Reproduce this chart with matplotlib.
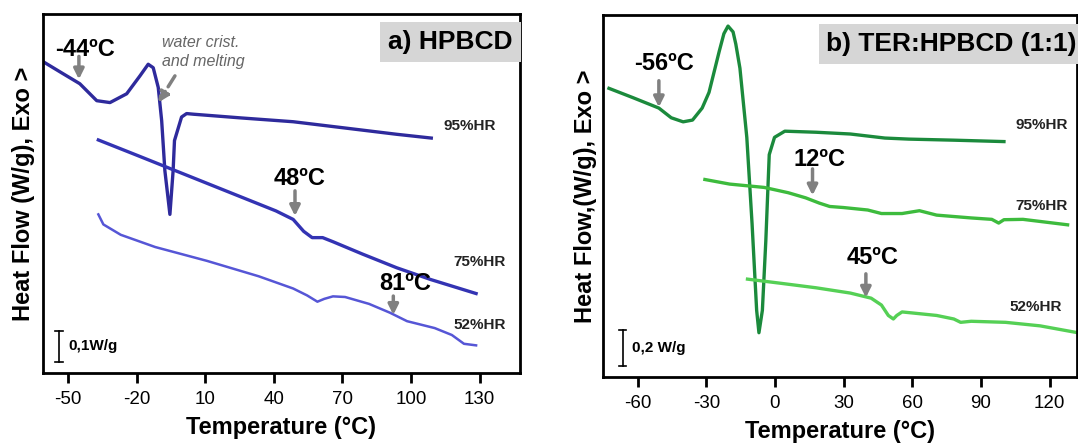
import matplotlib
matplotlib.use("Agg")
import matplotlib.pyplot as plt

plt.rcParams['font.family'] = ['Liberation Sans', 'DejaVu Sans']
plt.rcParams['axes.unicode_minus'] = False

# ---- panel a) HPBCD  (temperature degC, heat flow W/g with arbitrary offset)
a95_t = [-60.1, -52.6, -44.8, -37.4, -31.6, -24.3, -18.5, -14.9, -12.7, -10.5, -9.0, -7.6,
         -5.4, -4.0, -3.4, -0.3, 1.9, 4.8, 25.9, 48.5, 71.2, 93.8, 108.9]
a95_y = [0.988, 0.955, 0.921, 0.867, 0.861, 0.889, 0.946, 0.983, 0.972, 0.909, 0.803, 0.644,
         0.505, 0.644, 0.740, 0.815, 0.826, 0.824, 0.812, 0.800, 0.780, 0.760, 0.748]
a75_t = [-36.7, -19.4, -4.3, 10.8, 25.9, 41.0, 48.5, 53.1, 56.8, 61.4, 65.9, 78.7, 93.8, 108.9, 128.5]
a75_y = [0.742, 0.692, 0.648, 0.604, 0.560, 0.516, 0.489, 0.451, 0.431, 0.431, 0.418, 0.379,
         0.335, 0.297, 0.253]
a52_t = [-36.7, -34.5, -26.9, -11.8, 10.8, 33.4, 48.5, 54.6, 59.1, 62.1, 65.9, 71.2, 81.7,
         90.8, 98.3, 110.4, 117.9, 123.2, 128.5]
a52_y = [0.505, 0.473, 0.440, 0.401, 0.357, 0.308, 0.269, 0.247, 0.227, 0.236, 0.244, 0.242,
         0.220, 0.192, 0.165, 0.143, 0.121, 0.093, 0.088]

# ---- panel b) TER:HPBCD (1:1)
b95_t = [-72.5, -62.0, -50.7, -45.3, -40.1, -36.0, -31.8, -28.8, -24.3, -22.3, -20.5, -18.3,
         -17.1, -15.3, -12.3, -10.0, -8.0, -7.0, -5.5, -4.0, -2.5, -0.2, 4.3, 17.9, 32.9, 48.0,
         58.5, 78.1, 100.0]
b95_y = [1.637, 1.584, 1.525, 1.470, 1.447, 1.457, 1.525, 1.614, 1.849, 1.947, 1.990, 1.957,
         1.888, 1.751, 1.359, 0.869, 0.378, 0.251, 0.378, 0.771, 1.261, 1.359, 1.394, 1.388,
         1.378, 1.355, 1.349, 1.343, 1.335]
b75_t = [-30.6, -19.8, -4.7, 5.8, 13.4, 19.4, 23.9, 29.9, 40.5, 46.5, 55.5, 63.1, 70.6, 85.7,
         94.7, 97.7, 100.0, 108.3, 127.8]
b75_y = [1.120, 1.094, 1.075, 1.045, 1.016, 0.986, 0.967, 0.961, 0.947, 0.927, 0.927, 0.943,
         0.918, 0.902, 0.894, 0.873, 0.892, 0.894, 0.863]
b52_t = [-12.0, 2.8, 17.9, 32.9, 42.0, 46.5, 49.5, 51.7, 53.2, 55.5, 60.1, 70.6, 78.1, 81.1,
         85.7, 100.7, 115.8, 132.3]
b52_y = [0.555, 0.531, 0.506, 0.476, 0.447, 0.408, 0.349, 0.329, 0.349, 0.369, 0.363, 0.349,
         0.329, 0.310, 0.316, 0.310, 0.290, 0.251]

a_ticks = [-50, -20, 10, 40, 70, 100, 130]
b_ticks = [-60, -30, 0, 30, 60, 90, 120]

W, H = 1078, 444
fig = plt.figure(figsize=(W / 100, H / 100), dpi=100)


def px_axes(left, top, right, bottom):
    return fig.add_axes([left / W, 1 - bottom / H, (right - left) / W, (bottom - top) / H])


def style(ax, ticks, xpad):
    ax.set_xticks(ticks)
    ax.set_yticks([])
    for s in ax.spines.values():
        s.set_linewidth(2)
    ax.tick_params(axis='x', direction='out', length=7, width=2, labelsize=13.5, pad=6)
    ax.set_xlabel("Temperature (°C)", fontsize=17, fontweight='bold', labelpad=xpad)


def arrow(ax, x, y0, y1, dashed=False, x1=None):
    ax.annotate("", xy=(x if x1 is None else x1, y1), xytext=(x, y0),
                arrowprops=dict(arrowstyle='-|>,head_length=0.6,head_width=0.3',
                                color='#808080', lw=2.5, linestyle='--' if dashed else '-',
                                shrinkA=0, shrinkB=0))


def label(ax, x, y, s, size=17):
    ax.text(x, y, s, ha='center', va='center', fontsize=size, fontweight='bold')


def scale_bar(ax, x, y0, y1, s):
    ax.plot([x, x], [y0, y1], color='black', lw=1.2)
    dx = (ax.get_xlim()[1] - ax.get_xlim()[0]) * 0.008
    ax.plot([x - dx, x + dx], [y0, y0], color='black', lw=1.2)
    ax.plot([x - dx, x + dx], [y1, y1], color='black', lw=1.2)
    ax.text(x + dx * 2.5, (y0 + y1) / 2, s, ha='left', va='center', fontsize=11, fontweight='bold')


# ---------- panel a
ax1 = px_axes(43, 14, 520, 373)
ax1.set_xlim(-60.9, 147.7)
ax1.set_ylim(0, 1.143)
ax1.plot(a95_t, a95_y, color='#2e2a9c', lw=2.4)
ax1.plot(a75_t, a75_y, color='#3333b3', lw=2.4)
ax1.plot(a52_t, a52_y, color='#5656d6', lw=1.8)
style(ax1, a_ticks, 6)
ax1.set_ylabel("Heat Flow (W/g), Exo >", fontsize=17, fontweight='bold', labelpad=6)

label(ax1, -42.5, 1.03, "-44ºC")
arrow(ax1, -45.2, 1.008, 0.935)
ax1.text(-9.0, 1.022, "water crist.\nand melting", ha='left', va='center', fontsize=11.5,
         style='italic', color='#666666', linespacing=1.4)
arrow(ax1, -3.2, 0.946, 0.861, dashed=True, x1=-10.5)
label(ax1, 51.5, 0.62, "48ºC")
arrow(ax1, 49.3, 0.58, 0.50)
label(ax1, 97.6, 0.285, "81ºC")
arrow(ax1, 92.3, 0.245, 0.185)
for t, y, s in [(114.2, 0.786, "95%HR"), (118.7, 0.352, "75%HR"), (118.7, 0.154, "52%HR")]:
    ax1.text(t, y, s, ha='left', va='center', fontsize=11, fontweight='bold', color='#222222')
scale_bar(ax1, -53.8, 0.035, 0.135, "0,1W/g")
ax1.text(0.985, 0.955, "a) HPBCD", transform=ax1.transAxes, ha='right', va='top',
         fontsize=19, fontweight='bold',
         bbox=dict(boxstyle='square,pad=0.3', fc='#d6d6d6', ec='none'))

# ---------- panel b
ax2 = px_axes(603, 15.5, 1077, 377)
ax2.set_xlim(-75.1, 131.9)
ax2.set_ylim(0, 2.05)
ax2.plot(b95_t, b95_y, color='#1b8a3c', lw=2.4)
ax2.plot(b75_t, b75_y, color='#3dbb3d', lw=2.4)
ax2.plot(b52_t, b52_y, color='#55d055', lw=2.4)
style(ax2, b_ticks, 6)
ax2.set_ylabel("Heat Flow,(W/g), Exo >", fontsize=17, fontweight='bold', labelpad=4)

label(ax2, -48.4, 1.78, "-56ºC")
arrow(ax2, -50.7, 1.68, 1.53)
label(ax2, 19.4, 1.235, "12ºC")
arrow(ax2, 16.4, 1.18, 1.03)
label(ax2, 42.7, 0.675, "45ºC")
arrow(ax2, 39.7, 0.585, 0.45)
for t, y, s in [(105.2, 1.427, "95%HR"), (105.2, 0.967, "75%HR"), (102.2, 0.398, "52%HR")]:
    ax2.text(t, y, s, ha='left', va='center', fontsize=11, fontweight='bold', color='#222222')
scale_bar(ax2, -66.5, 0.065, 0.265, "0,2 W/g")
ax2.text(1.0, 0.955, "b) TER:HPBCD (1:1)", transform=ax2.transAxes, ha='right', va='top',
         fontsize=19, fontweight='bold',
         bbox=dict(boxstyle='square,pad=0.3', fc='#d6d6d6', ec='none'))

fig.savefig("out.png", dpi=100)
